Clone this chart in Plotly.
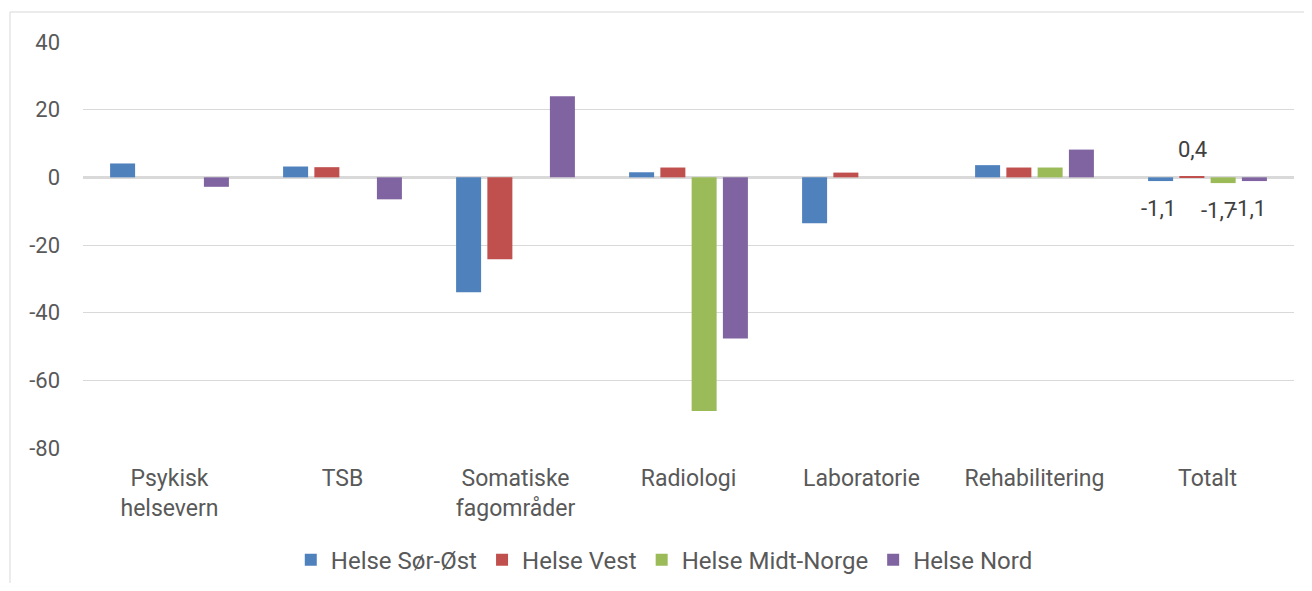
import plotly.graph_objects as go

categories = ["Psykisk<br>helsevern", "TSB", "Somatiske<br>fagområder", "Radiologi",
              "Laboratorie", "Rehabilitering", "Totalt"]
series_names = ["Helse Sør-Øst", "Helse Vest", "Helse Midt-Norge", "Helse Nord"]
helse_sor_ost = [4.1, 3.2, -34.0, 1.5, -13.6, 3.6, -1.1]
helse_vest = [0.0, 3.0, -24.2, 2.9, 1.4, 2.9, 0.4]
helse_midt = [0.0, 0.0, 0.0, -69.1, 0.0, 2.9, -1.7]
helse_nord = [-2.8, -6.5, 24.0, -47.6, 0.0, 8.2, -1.1]
colors = ["#4f81bd", "#c0504d", "#9bbb59", "#8064a2"]
y_ticks = [40, 20, 0, -20, -40, -60, -80]
y_tick_text = ["40", "20", "0", "-20", "-40", "-60", "-80"]

series = [helse_sor_ost, helse_vest, helse_midt, helse_nord]
label_xshift = [-49, -15, 11, 41]

fig = go.Figure()
annotations = []
for i, (name, vals, col) in enumerate(zip(series_names, series, colors)):
    fig.add_trace(go.Bar(
        name=name, x=categories, y=vals,
        marker=dict(color=col, line=dict(width=0)),
    ))
    v = vals[-1]
    annotations.append(dict(
        x=categories[-1], y=v, xref="x", yref="y",
        text=f"{v:.1f}".replace(".", ","), showarrow=False,
        xshift=label_xshift[i], yshift=26 if v >= 0 else -27,
        yanchor="middle", xanchor="center",
        font=dict(family="Roboto", size=22, color="#404040"),
    ))

fig.update_layout(
    barmode="group", bargap=0.277, bargroupgap=0.2,
    width=1296, height=575,
    margin=dict(l=75, r=10, t=34, b=135, autoexpand=False),
    paper_bgcolor="white", plot_bgcolor="white",
    font=dict(family="Roboto", size=22, color="#595959"),
    showlegend=True,
    legend=dict(orientation="h", x=0.48, xanchor="center", y=-0.276, yanchor="middle",
                font=dict(family="Roboto", size=24, color="#595959"),
                itemwidth=30, tracegroupgap=0),
    annotations=annotations,
    shapes=[dict(type="rect", xref="paper", yref="paper",
                 x0=-0.0603, x1=1.05, y0=-0.5, y1=1.0739,
                 line=dict(color="#d9d9d9", width=1), fillcolor="rgba(0,0,0,0)",
                 layer="below")],
)
fig.update_xaxes(showgrid=False, zeroline=False, showline=False, ticks="",
                 automargin=False,
                 tickfont=dict(family="Roboto", size=23, color="#595959"),
                 ticklabelstandoff=14)
fig.update_yaxes(range=[-80, 40], tickvals=y_ticks, ticktext=y_tick_text,
                 automargin=False,
                 showgrid=True, gridcolor="#d9d9d9",
                 gridwidth=1, zeroline=True, zerolinecolor="#d9d9d9", zerolinewidth=2.5,
                 showline=False, ticks="", ticklabelstandoff=22,
                 tickfont=dict(family="Roboto", size=22, color="#595959"))

fig.write_html("out.html")
